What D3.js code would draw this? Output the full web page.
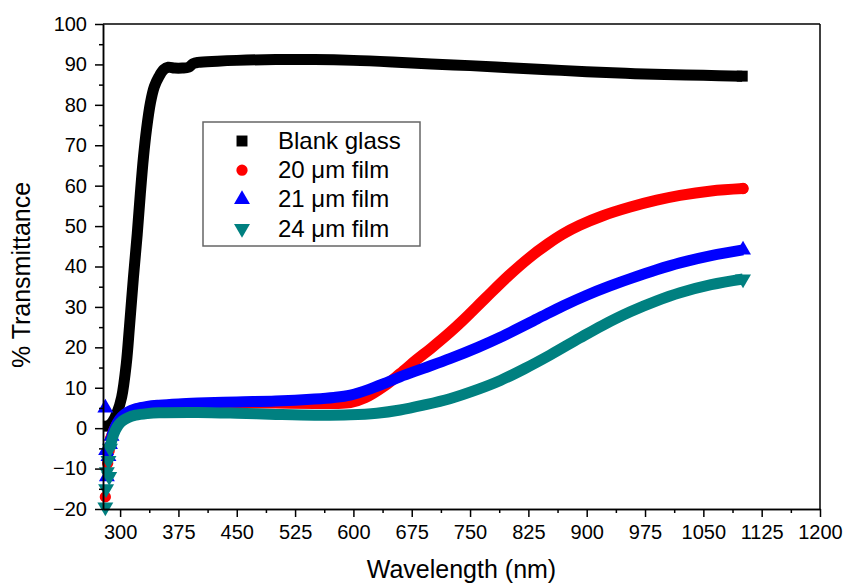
<!DOCTYPE html>
<html>
<head>
<meta charset="utf-8">
<script src="https://cdn.jsdelivr.net/npm/d3@7"></script>
<style>
body { margin: 0; background: #fff; }
text { font-family: "Liberation Sans", Arial, sans-serif; fill: #000; }
</style>
</head>
<body>
<svg id="chart" width="843" height="583"></svg>
<script>
// tick values
const xTicks = [300, 375, 450, 525, 600, 675, 750, 825, 900, 975, 1050, 1125, 1200];
const yTicks = [-20, -10, 0, 10, 20, 30, 40, 50, 60, 70, 80, 90, 100];

// Blank glass
const blankWl = [285, 290, 296, 302, 308, 312, 317, 322, 326, 330, 334, 339, 344, 350, 356, 362, 370, 380, 388, 394, 400, 425, 450, 500, 550, 600, 650, 700, 750, 800, 850, 900, 950, 1000, 1050, 1100];
const blankT = [0.5, 1.5, 3.8, 7.7, 16, 25, 37, 48, 58, 67, 74, 80.5, 84.5, 87, 88.7, 89.3, 89.1, 89.1, 89.3, 90.2, 90.5, 90.8, 91, 91.2, 91.2, 91, 90.6, 90.1, 89.7, 89.2, 88.7, 88.2, 87.8, 87.5, 87.3, 87.1];

// 20 um film
const f20ScatterWl = [281, 284, 286];
const f20ScatterT = [-17, -8.7, -5.5];
const f20Wl = [288, 292, 296, 300, 305, 312, 320, 335, 350, 375, 400, 450, 500, 550, 575, 596, 615, 639, 660, 681, 700, 724, 741, 770, 800, 825, 850, 870, 891, 920, 956, 990, 1020, 1060, 1101];
const f20T = [-2.5, -0.5, 1, 2, 3, 4, 4.7, 5.2, 5.5, 5.8, 6, 6.2, 6.2, 6.1, 6.1, 6.3, 7.5, 10.3, 13.5, 16.9, 19.8, 23.7, 26.7, 32.2, 37.8, 42, 45.6, 48.1, 50.2, 52.5, 54.7, 56.4, 57.6, 58.7, 59.3];

// 21 um film
const f21ScatterWl = [281, 282, 283, 285, 287];
const f21ScatterT = [5, -5.5, -12, -7, -4];
const f21Wl = [289, 293, 297, 302, 310, 320, 335, 350, 375, 400, 450, 500, 550, 575, 596, 620, 639, 660, 690, 724, 760, 789, 836, 870, 900, 930, 956, 990, 1020, 1060, 1101];
const f21T = [-2, 0, 1.5, 2.8, 4, 4.8, 5.4, 5.7, 6, 6.2, 6.5, 6.7, 7.2, 7.6, 8.2, 9.6, 11, 12.7, 14.8, 17.2, 20, 22.5, 27, 30.3, 32.9, 35.2, 37, 39.2, 40.9, 42.7, 44.1];

// 24 um film
const f24ScatterWl = [281, 282, 283, 285, 286];
const f24ScatterT = [-19.5, -15, -10.8, -8, -12];
const f24Wl = [287, 290, 294, 298, 303, 310, 320, 335, 350, 400, 450, 500, 550, 596, 630, 660, 690, 724, 760, 789, 820, 853, 891, 920, 956, 990, 1020, 1060, 1101];
const f24T = [-5, -2.5, -0.5, 0.8, 1.8, 2.6, 3.2, 3.6, 3.8, 3.9, 3.7, 3.4, 3.2, 3.3, 3.7, 4.5, 5.7, 7.3, 9.6, 11.8, 14.7, 18.1, 22.3, 25.4, 28.8, 31.5, 33.5, 35.5, 36.9];

const seriesNames = ["Blank glass", "20 \u03bcm film", "21 \u03bcm film", "24 \u03bcm film"];
const seriesColors = ["#000000", "#ff0000", "#0000ff", "#008080"];

const series = [
    { name: seriesNames[0], color: seriesColors[0], symbol: d3.symbolSquare, size: 120, rot: 0, cap: "butt",
      wl: blankWl, t: blankT, swl: [], st: [] },
    { name: seriesNames[1], color: seriesColors[1], symbol: d3.symbolCircle, size: 100, rot: 0, cap: "round",
      wl: f20Wl, t: f20T, swl: f20ScatterWl, st: f20ScatterT },
    { name: seriesNames[2], color: seriesColors[2], symbol: d3.symbolTriangle, size: 110, rot: 0, cap: "butt",
      wl: f21Wl, t: f21T, swl: f21ScatterWl, st: f21ScatterT },
    { name: seriesNames[3], color: seriesColors[3], symbol: d3.symbolTriangle, size: 110, rot: 180, cap: "butt",
      wl: f24Wl, t: f24T, swl: f24ScatterWl, st: f24ScatterT }
];

let svg = d3.select("#chart");

let margin = { left: 103, right: 23, top: 24, bottom: 74 },
    width = 843 - margin.left - margin.right,
    height = 583 - margin.top - margin.bottom;

let x = d3.scaleLinear().domain([278, 1200]).range([0, width]);
let y = d3.scaleLinear().domain([-20, 100]).range([height, 0]);

let chart = svg.append("g")
    .attr("transform", "translate(" + margin.left + "," + margin.top + ")");

// data
let lineFunc = d3.line()
    .x(function(d) { return x(d[0]); })
    .y(function(d) { return y(d[1]); })
    .curve(d3.curveCatmullRom.alpha(0.5));

series.forEach(function(s) {
    let pts = s.wl.map(function(w, i) { return [w, s.t[i]]; });
    let spts = s.swl.map(function(w, i) { return [w, s.st[i]]; });
    let g = chart.append("g").attr("class", "series");

    g.append("path")
        .datum(pts)
        .attr("fill", "none")
        .attr("stroke", s.color)
        .attr("stroke-width", 11)
        .attr("stroke-linecap", s.cap)
        .attr("d", lineFunc);

    let sym = d3.symbol().type(s.symbol).size(s.size);
    g.selectAll("path.mark")
        .data(spts.concat([pts[0], pts[pts.length - 1]]))
        .enter().append("path")
        .attr("class", "mark")
        .attr("fill", s.color)
        .attr("transform", function(d) {
            return "translate(" + x(d[0]) + "," + y(d[1]) + ") rotate(" + s.rot + ")";
        })
        .attr("d", sym);
});

// axes
chart.append("g")
    .attr("transform", "translate(0," + height + ")")
    .call(d3.axisBottom(x).tickValues(xTicks).tickFormat(d3.format("d"))
        .tickSize(8).tickPadding(8).tickSizeOuter(0));
chart.append("g")
    .attr("transform", "translate(0," + height + ")")
    .call(d3.axisBottom(x).tickValues(d3.range(337.5, 1200, 75)).tickSize(4).tickFormat("").tickSizeOuter(0));

chart.append("g")
    .call(d3.axisLeft(y).tickValues(yTicks).tickSize(8).tickPadding(8).tickSizeOuter(0));
chart.append("g")
    .call(d3.axisLeft(y).tickValues(d3.range(-15, 100, 10)).tickSize(4).tickFormat("").tickSizeOuter(0));

chart.selectAll(".domain, .tick line")
    .attr("stroke", "#000")
    .attr("stroke-width", 1.5);

chart.selectAll(".tick text")
    .style("font-size", "20px")
    .style("font-family", "'Liberation Sans', Arial, sans-serif");

// frame top and right
chart.append("line")
    .attr("x1", 0).attr("x2", width).attr("y1", 0).attr("y2", 0)
    .attr("stroke", "#000").attr("stroke-width", 1.5);
chart.append("line")
    .attr("x1", width).attr("x2", width).attr("y1", 0).attr("y2", height)
    .attr("stroke", "#000").attr("stroke-width", 1.5);

// axis titles
svg.append("text")
    .attr("x", margin.left + width / 2)
    .attr("y", 578)
    .attr("text-anchor", "middle")
    .style("font-size", "25px")
    .text("Wavelength (nm)");

svg.append("text")
    .attr("transform", "translate(30,275) rotate(-90)")
    .attr("text-anchor", "middle")
    .style("font-size", "25px")
    .text("% Transmittance");

// legend
let legend = svg.append("g").attr("transform", "translate(203,122)");
legend.append("rect")
    .attr("width", 217).attr("height", 124)
    .attr("fill", "#fff")
    .attr("stroke", "#666").attr("stroke-width", 1.5);

let rows = legend.selectAll("g.row")
    .data(series).enter().append("g")
    .attr("class", "row")
    .attr("transform", function(d, i) { return "translate(0," + (19 + i * 29.2) + ")"; });

rows.append("path")
    .attr("transform", function(d) { return "translate(39,0) rotate(" + d.rot + ")"; })
    .attr("fill", function(d) { return d.color; })
    .attr("d", function(d) { return d3.symbol().type(d.symbol).size(d.size)(); });

rows.append("text")
    .attr("x", 75)
    .attr("y", 8)
    .style("font-size", "24px")
    .text(function(d) { return d.name; });
</script>
</body>
</html>
